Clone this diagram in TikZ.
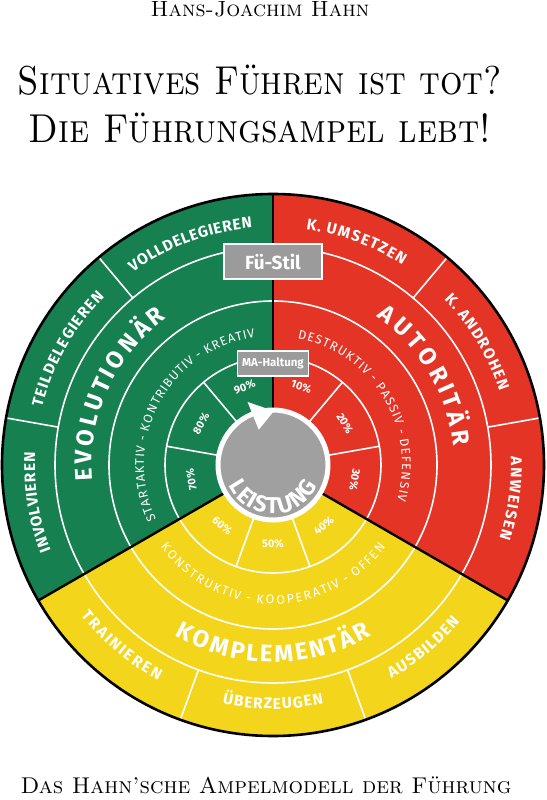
\documentclass[tikz,border=0pt]{standalone}
\usepackage{fontspec}
\newfontfamily\dinfont{Fira Sans}
\usetikzlibrary{decorations.text}
\definecolor{ampgreen}{RGB}{22,128,80}
\definecolor{ampred}{RGB}{228,52,38}
\definecolor{ampyellow}{RGB}{243,214,28}
\definecolor{ampgray}{RGB}{160,160,160}
\definecolor{boxgray}{RGB}{155,155,155}
% radius, start angle, end angle, font, text -- letters spread over the arc
\newcommand\spreadlabel[5]{%
  \begingroup#4%
  \path[decorate,decoration={text effects along path,text={#5},
      text effects/.cd,text along path,fit text to path,
      characters={text=white,inner sep=0pt}}]
    (#2:#1) arc[start angle=#2,end angle=#3,radius=#1];
  \endgroup}
\newcommand\outerfont{\dinfont\bfseries\fontsize{15.5}{15.5}\selectfont}
\newcommand\mainfont{\dinfont\bfseries\fontsize{24}{24}\selectfont}
\newcommand\attfont{\dinfont\fontsize{12.5}{12.5}\selectfont}
\begin{document}
\begin{tikzpicture}[x=1pt,y=1pt,
  whiteline/.style={white,line width=1.6pt},
  blackline/.style={black,line width=2.4pt},
  pct/.style={text=white,font=\dinfont\bfseries\fontsize{11}{11}\selectfont,inner sep=0pt},
  labelbox/.style={fill=boxgray,draw=white,line width=1.4pt,text=white,inner sep=0pt}]
\useasboundingbox (-273,-335) rectangle (273,465);
% titles
\node[anchor=base] (author) at (-13,448) {\fontsize{22}{22}\selectfont\textsc{Hans-Joachim Hahn}};
\node[anchor=base] (title1) at (-13,370) {\scalebox{0.98}[1.12]{\fontsize{36}{36}\selectfont\textsc{Situatives Führen ist tot?}}};
\node[anchor=base] (title2) at (-13,322) {\scalebox{1.0}[1.12]{\fontsize{36}{36}\selectfont\textsc{Die Führungsampel lebt!}}};
\node[anchor=base] (caption) at (-7,-328) {\fontsize{22.8}{22.8}\selectfont\textsc{Das Hahn’sche Ampelmodell der Führung}};
% sectors
\fill[ampgreen] (0,0) -- (90:271) arc[start angle=90,end angle=210,radius=271] -- cycle;
\fill[ampred] (0,0) -- (-30:271) arc[start angle=-30,end angle=90,radius=271] -- cycle;
\fill[ampyellow] (0,0) -- (210:271) arc[start angle=210,end angle=330,radius=271] -- cycle;
% white rings
\foreach \r in {108,164,218} \draw[whiteline] (0,0) circle[radius=\r];
\foreach \a in {10,50,130,170,250,290} {
  \draw[whiteline] (\a:57) -- (\a:108);
  \draw[whiteline] (\a:218) -- (\a:271);}
% black dividers
\foreach \a in {90,210,330} \draw[blackline] (\a:55) -- (\a:271);
\draw[black,line width=2.6pt] (0,0) circle[radius=271];
% centre
\fill[ampgray] (0,0) circle[radius=55];
\draw[white,line width=5pt] (0,0) circle[radius=55];
\fill[white] (112:38) -- (112:68) -- (89:54) -- cycle;
\node[labelbox,minimum width=98pt,minimum height=35pt,font=\dinfont\bfseries\fontsize{19}{19}\selectfont] (fustil) at (0,203.5) {Fü-Stil};
\node[labelbox,minimum width=71pt,minimum height=25pt,font=\dinfont\bfseries\fontsize{11.5}{11.5}\selectfont] (mahaltung) at (0,101.5) {MA-Haltung};
% outer ring labels
\spreadlabel{238}{126}{95}{\outerfont}{VOLLDELEGIEREN}
\spreadlabel{238}{166}{135}{\outerfont}{TEILDELEGIEREN}
\spreadlabel{238}{201}{177}{\outerfont}{INVOLVIEREN}
\spreadlabel{238}{82}{57}{\outerfont}{K. UMSETZEN}
\spreadlabel{238}{44}{18}{\outerfont}{K. ANDROHEN}
\spreadlabel{238}{2}{-18}{\outerfont}{ANWEISEN}
\spreadlabel{244}{218}{242}{\outerfont}{TRAINIEREN}
\spreadlabel{244}{258}{282}{\outerfont}{ÜBERZEUGEN}
\spreadlabel{244}{299}{320}{\outerfont}{AUSBILDEN}
% main labels
\spreadlabel{181}{185}{126}{\mainfont}{EVOLUTIONÄR}
\spreadlabel{181}{55}{6}{\mainfont}{AUTORITÄR}
\spreadlabel{197}{240}{300}{\mainfont}{KOMPLEMENTÄR}
% attitude labels
\spreadlabel{129}{205}{98}{\attfont}{STARTAKTIV - KONTRIBUTIV - KREATIV}
\spreadlabel{129}{79}{-16}{\attfont}{DESTRUKTIV - PASSIV - DEFENSIV}
\spreadlabel{139}{216}{324}{\attfont}{KONSTRUKTIV - KOOPERATIV - OFFEN}
% percent labels
\node[pct,rotate=20] (p90) at (110:83) {90\%};
\node[pct,rotate=60] (p80) at (150:83) {80\%};
\node[pct,rotate=100] (p70) at (190:83) {70\%};
\node[pct,rotate=-20] (p10) at (70:83) {10\%};
\node[pct,rotate=-60] (p20) at (30:83) {20\%};
\node[pct,rotate=-100] (p30) at (-10:83) {30\%};
\node[pct,rotate=-40] (p60) at (230:79) {60\%};
\node[pct,rotate=0] (p50) at (270:79) {50\%};
\node[pct,rotate=40] (p40) at (310:79) {40\%};
% centre label
\spreadlabel{49}{205}{335}{\dinfont\bfseries\fontsize{23}{23}\selectfont}{LEISTUNG}
\end{tikzpicture}
\end{document}
